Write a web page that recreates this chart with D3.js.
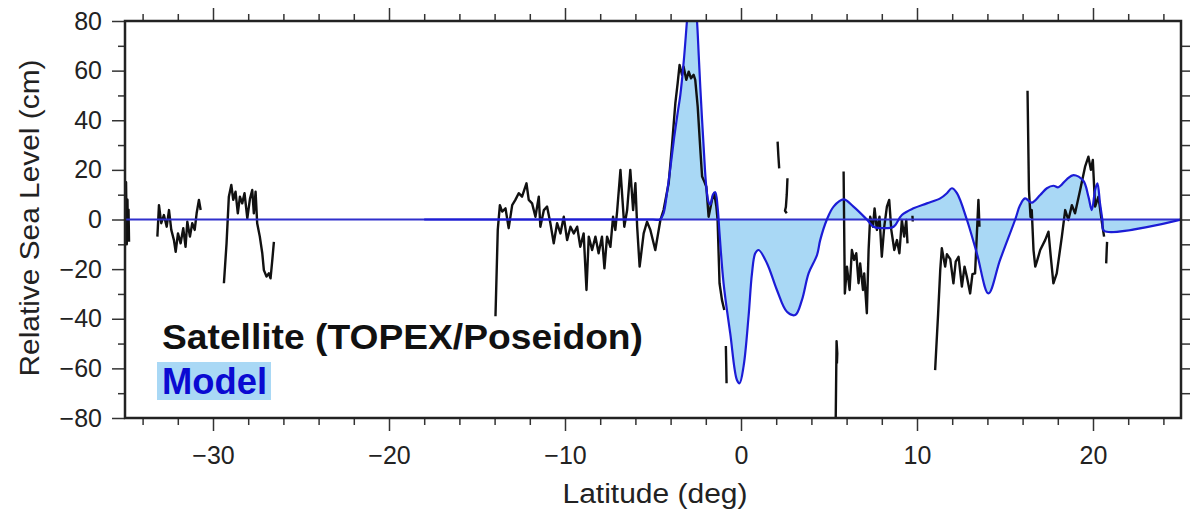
<!DOCTYPE html>
<html>
<head>
<meta charset="utf-8">
<script src="https://cdn.jsdelivr.net/npm/d3@7"></script>
<style>
  html, body { margin: 0; padding: 0; background: #fff; }
  svg { display: block; font-family: "Liberation Sans", Arial, Helvetica, sans-serif; }
</style>
</head>
<body>
<svg width="1192" height="512"></svg>
<script>
// x ticks and y ticks
var latMajor = [-30, -20, -10, 0, 10, 20]
var levelMajor = [-80, -60, -40, -20, 0, 20, 40, 60, 80]

// model curve [lat, cm]
var model = [
	[-18, 0], [-5, 0], [-4.6, 0], [-4.4, 2.5], [-4.2, 11], [-4.01, 21], [-3.8, 33], [-3.6, 43],
	[-3.45, 50], [-3.25, 64], [-3.07, 80], [-2.95, 90], [-2.78, 94], [-2.6, 88], [-2.5, 80],
	[-2.4, 66], [-2.31, 53], [-2.12, 29], [-1.97, 13], [-1.84, 7], [-1.74, 6], [-1.6, 10],
	[-1.46, 11], [-1.33, 5], [-1.22, -5.6], [-0.99, -25.7], [-0.61, -46], [-0.23, -64.7],
	[-0.08, -66], [0.15, -59], [0.43, -39], [0.62, -22], [0.81, -13.6], [1.0, -12.3],
	[1.48, -17.7], [2.04, -28.4], [2.61, -37.2], [3.08, -38.5], [3.46, -32.5], [3.84, -21.7],
	[4.32, -14.3], [4.5, -8.3], [4.88, 0], [5.26, 5.2], [5.83, 8.1], [6.39, 5.2], [7.15, 0],
	[7.53, -2.9], [8.1, -3.5], [8.67, -2.9], [9.14, 1.8], [9.8, 4.5], [10.56, 6.5], [11.32, 8.5],
	[11.7, 10.6], [11.98, 12.6], [12.27, 10.6], [12.83, 0], [13.4, -13.6], [14.06, -29.8],
	[14.72, -16.3], [15.58, 0], [15.86, 5.8], [16.14, 8.5], [16.52, 6.8], [17.0, 9.9],
	[17.38, 12.6], [17.75, 13.6], [18.03, 13], [18.51, 16.2], [18.89, 17.9], [19.45, 15.6],
	[19.74, 9.2], [19.93, 3.8], [20.12, 11.9], [20.25, 14.6], [20.4, 6.5], [20.54, -0.5],
	[20.63, -4.6], [25, 0]
]

// satellite track pieces (TOPEX/Poseidon), [lat, cm]
var satA = [[-35.05, 14], [-34.98, -6], [-34.94, 15], [-34.9, -10], [-34.86, 8], [-34.83, -8], [-34.8, 4], [-34.77, -9]]
var satB = [
	[-33.16, -6.9], [-33.07, 5.8], [-32.94, -1.5], [-32.79, 1.8], [-32.63, -2.9], [-32.5, 3.8],
	[-32.37, -4.2], [-32.22, -8.3], [-32.12, -13], [-31.99, -5.6], [-31.84, -9.6], [-31.69, -3.5],
	[-31.56, -11], [-31.46, -0.9], [-31.31, -6.9], [-31.18, -1.5], [-31.04, -4.2], [-30.93, 2.5],
	[-30.8, 7.9], [-30.7, 3.8]
]
var satC = [
	[-29.38, -25.7], [-29.23, -9.6], [-29.1, 9.2], [-28.96, 13.9], [-28.85, 7.9], [-28.72, 11.2],
	[-28.59, 2.5], [-28.47, 9.2], [-28.34, 6.5], [-28.21, 10.6], [-28.05, 0.5], [-27.9, 8.3],
	[-27.77, 11.9], [-27.68, 2.5], [-27.58, 11.2], [-27.49, -1.5], [-27.34, -6.9], [-27.2, -13.6],
	[-27.11, -20.4], [-26.96, -23], [-26.83, -21.7], [-26.73, -23.7], [-26.63, -16.3], [-26.54, -9]
]
var satD = [
	[-13.95, -39], [-13.82, -4.2], [-13.7, 5.8], [-13.57, 3.2], [-13.38, 4.5], [-13.2, -3.5],
	[-13.0, 5.8], [-12.82, 7.9], [-12.63, 10.6], [-12.44, 9.2], [-12.19, 14.6], [-12.06, 7.9],
	[-11.87, 6.5], [-11.68, 1.1], [-11.49, 9.2], [-11.4, -2.9], [-11.2, 3.8], [-11.02, 5.2],
	[-10.83, -1.5], [-10.64, -9.6], [-10.45, -1.5], [-10.26, -5.6], [-10.07, 1.1], [-9.88, -8.3],
	[-9.69, -2.9], [-9.5, -5.6], [-9.31, -2.9], [-9.13, -11], [-8.94, -5.6], [-8.78, -28.4],
	[-8.65, -6.9], [-8.46, -12.3], [-8.27, -6.9], [-8.09, -13.6], [-7.9, -6.9], [-7.76, -19.7],
	[-7.61, -6.9], [-7.42, -11], [-7.27, 1.1], [-7.14, -4.2], [-7.04, 3.2], [-6.85, 20],
	[-6.63, -2.9], [-6.47, 3.8], [-6.29, 20], [-6.13, 3.8], [-6.0, 14.6], [-5.9, -2.9],
	[-5.76, -19], [-5.53, -5.6], [-5.34, -0.9], [-5.15, -4.2], [-4.87, -12.3], [-4.58, -0.2],
	[-4.4, 3.8], [-4.11, 14.6], [-3.92, 30], [-3.73, 46.9], [-3.6, 54.9], [-3.49, 62.3],
	[-3.35, 58.3], [-3.26, 61.6], [-3.11, 56.3], [-2.97, 59.6], [-2.84, 56.9], [-2.69, 58.3],
	[-2.6, 56.3], [-2.46, 45.5], [-2.31, 28], [-2.21, 17.3], [-2.08, 15.2], [-1.97, 13.2],
	[-1.84, 1.1], [-1.65, 7.9], [-1.52, 10.6], [-1.4, 5.2], [-1.33, -0.2], [-1.22, -25.7],
	[-1.08, -32.5], [-0.95, -36.5]
]
var satE = [[-0.86, -51], [-0.84, -58], [-0.82, -66]]
var satF = [[2.08, 31.4], [2.12, 26], [2.17, 20.6]]
var satG = [[2.64, 16.6], [2.6, 10], [2.55, 5], [2.5, 3.5], [2.6, 2.5]]
var satH = [[5.38, -81], [5.41, -62], [5.43, -49], [5.47, -54], [5.45, -58]]
var satI = [
	[5.83, 19.3], [5.9, -29.8], [6.02, -19], [6.17, -28.4], [6.3, -12.3], [6.43, -16.3],
	[6.55, -13.6], [6.68, -25.7], [6.77, -17.7], [6.93, -28.4], [7.0, -21.7], [7.15, -37.8],
	[7.25, -12.3], [7.34, 1.1], [7.5, -2.9], [7.59, 4.5], [7.72, -4.2], [7.87, 1.1], [8.0, -15],
	[8.14, -2.9], [8.29, 5.2], [8.42, 7.9], [8.54, -4.2], [8.71, -12.3], [8.86, -8.3],
	[9.0, -13.6], [9.14, -0.2], [9.27, -6.9], [9.39, -0.2], [9.46, -9.6]
]
var satJ = [[9.74, 1.5], [9.76, -0.8]]
var satK = [
	[11.03, -60.7], [11.09, -52.6], [11.2, -38], [11.32, -20.4], [11.41, -11.6], [11.6, -19],
	[11.7, -14], [11.89, -16], [12.07, -25.7], [12.2, -17], [12.36, -15], [12.55, -27],
	[12.7, -19], [12.83, -23], [13.02, -29.8], [13.15, -22], [13.3, -21.7], [13.49, 7.9], [13.55, -2.9]
]
var satL = [
	[16.28, 51.9], [16.36, 12], [16.45, 1], [16.52, 3.8], [16.62, -12.3], [16.72, -19],
	[16.81, -17], [17.0, -12.3], [17.28, -8.3], [17.47, -4.9], [17.6, -15], [17.75, -25.7],
	[17.94, -21.7], [18.23, -6.9], [18.42, 3.8], [18.6, -0.2], [18.8, 5.8], [18.98, 2.5],
	[19.27, 11.9], [19.55, 21.3], [19.74, 25.3], [19.88, 20], [19.99, 24], [20.12, 5.2],
	[20.31, 9.2], [20.5, -0.9], [20.63, -6.9]
]
var satM = [[20.8, -9], [20.78, -12], [20.75, -17.7]]
var satellite = [satA, satB, satC, satD, satE, satF, satG, satH, satI, satJ, satK, satL, satM]

var svg = d3.select('svg')
// plot box (note: "top" is reserved on window, so use prefixed names)
var plotLeft = 125, plotTop = 21, plotRight = 1181, plotBottom = 418

var x = d3.scaleLinear().domain([-35, 25]).range([plotLeft, plotRight])
var y = d3.scaleLinear().domain([-80, 80]).range([plotBottom, plotTop])

var fmt = function(d) { return d < 0 ? '\u2212' + Math.abs(d) : String(d) }

svg.append('defs').append('clipPath').attr('id', 'plot')
	.append('rect')
	.attr('x', plotLeft).attr('y', plotTop)
	.attr('width', plotRight - plotLeft).attr('height', plotBottom - plotTop)

var plot = svg.append('g').attr('clip-path', 'url(#plot)')

// shaded area between model and zero
var area = d3.area()
	.x(function(d) { return x(d[0]) })
	.y0(y(0))
	.y1(function(d) { return y(d[1]) })
	.curve(d3.curveCatmullRom.alpha(0.5))

plot.append('path')
	.datum(model)
	.attr('d', area)
	.attr('fill', '#a9d8f5')

var line = d3.line()
	.x(function(d) { return x(d[0]) })
	.y(function(d) { return y(d[1]) })

plot.selectAll('path.sat')
	.data(satellite)
	.enter().append('path')
	.attr('class', 'sat')
	.attr('d', line)
	.attr('fill', 'none')
	.attr('stroke', '#111')
	.attr('stroke-width', 2.4)
	.attr('stroke-linejoin', 'round')

// zero line
plot.append('line')
	.attr('x1', plotLeft).attr('x2', plotRight)
	.attr('y1', y(0)).attr('y2', y(0))
	.attr('stroke', '#2f2fcc')
	.attr('stroke-width', 2)

plot.append('path')
	.datum(model)
	.attr('d', line.curve(d3.curveCatmullRom.alpha(0.5)))
	.attr('fill', 'none')
	.attr('stroke', '#1c1cd6')
	.attr('stroke-width', 2.2)

// axes
function styleAxis(g) {
	g.select('.domain').remove()
	g.selectAll('.tick line').attr('stroke', '#333').attr('stroke-width', 1.5)
	g.selectAll('.tick text').attr('fill', '#222').style('font-size', '25px')
		.style('font-family', '"Liberation Sans", Arial, sans-serif')
}

var latMinor = d3.range(-34, 25, 2).filter(function(d) { return latMajor.indexOf(d) < 0 })
var levelMinor = d3.range(-70, 80, 20)

svg.append('g').attr('transform', 'translate(0,' + plotBottom + ')')
	.call(d3.axisBottom(x).tickValues(latMajor).tickSize(13).tickPadding(15).tickFormat(fmt))
	.call(styleAxis)
svg.append('g').attr('transform', 'translate(0,' + plotBottom + ')')
	.call(d3.axisBottom(x).tickValues(latMinor).tickSize(7).tickFormat(''))
	.call(styleAxis)
svg.append('g').attr('transform', 'translate(0,' + plotTop + ')')
	.call(d3.axisTop(x).tickValues(latMajor).tickSize(13).tickFormat(''))
	.call(styleAxis)
svg.append('g').attr('transform', 'translate(0,' + plotTop + ')')
	.call(d3.axisTop(x).tickValues(latMinor).tickSize(7).tickFormat(''))
	.call(styleAxis)
svg.append('g').attr('transform', 'translate(' + plotLeft + ',0)')
	.call(d3.axisLeft(y).tickValues(levelMajor).tickSize(13).tickPadding(10).tickFormat(fmt))
	.call(styleAxis)
svg.append('g').attr('transform', 'translate(' + plotLeft + ',0)')
	.call(d3.axisLeft(y).tickValues(levelMinor).tickSize(7).tickFormat(''))
	.call(styleAxis)
svg.append('g').attr('transform', 'translate(' + plotRight + ',0)')
	.call(d3.axisRight(y).tickValues(d3.range(-70, 80, 10)).tickSize(9).tickFormat(''))
	.call(styleAxis)

// frame
svg.append('rect')
	.attr('x', plotLeft).attr('y', plotTop)
	.attr('width', plotRight - plotLeft).attr('height', plotBottom - plotTop)
	.attr('fill', 'none')
	.attr('stroke', '#222')
	.attr('stroke-width', 2.5)

// axis titles
svg.append('text')
	.attr('x', 655).attr('y', 503)
	.attr('text-anchor', 'middle')
	.attr('textLength', 185).attr('lengthAdjust', 'spacingAndGlyphs')
	.style('font-size', '27px').attr('fill', '#222')
	.text('Latitude (deg)')

svg.append('text')
	.attr('transform', 'translate(39,218) rotate(-90)')
	.attr('text-anchor', 'middle')
	.attr('textLength', 317).attr('lengthAdjust', 'spacingAndGlyphs')
	.style('font-size', '28px').attr('fill', '#222')
	.text('Relative Sea Level (cm)')

// legend
svg.append('text')
	.attr('x', 162).attr('y', 349)
	.attr('textLength', 481).attr('lengthAdjust', 'spacingAndGlyphs')
	.style('font-size', '35px').style('font-weight', 'bold').attr('fill', '#111')
	.text('Satellite (TOPEX/Poseidon)')

svg.append('rect')
	.attr('x', 157).attr('y', 362).attr('width', 114).attr('height', 38)
	.attr('fill', '#a9d8f5')

svg.append('text')
	.attr('x', 162).attr('y', 394)
	.attr('textLength', 105).attr('lengthAdjust', 'spacingAndGlyphs')
	.style('font-size', '36px').style('font-weight', 'bold').attr('fill', '#0a0ad2')
	.text('Model')
</script>
</body>
</html>
